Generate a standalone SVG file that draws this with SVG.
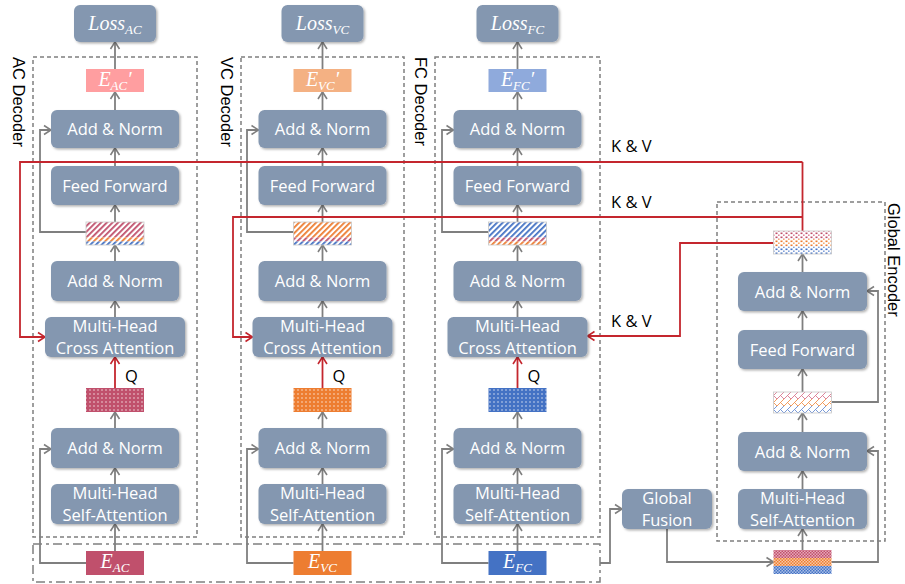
<svg xmlns="http://www.w3.org/2000/svg" width="905" height="584" viewBox="0 0 905 584">
<defs>
<style>
.box{fill:#8497B0;filter:url(#sh)}
.t{font-family:"Open Sans","Liberation Sans",sans-serif;font-size:16.5px;fill:#fff;text-anchor:middle}
.lbl{font-family:"Open Sans","Liberation Sans",sans-serif;font-size:16.5px;fill:#000}
.vl{font-family:"Liberation Sans",sans-serif;font-size:16.5px;fill:#000}
.m{font-family:"Liberation Serif",serif;font-style:italic;font-size:20px;fill:#fff;text-anchor:middle}
.sub{font-size:13px}
.dash{fill:none;stroke:#7F7F7F;stroke-width:1.5;stroke-dasharray:4 3}
.dd{fill:none;stroke:#7F7F7F;stroke-width:1.5;stroke-dasharray:9 4 3 4}
.g{fill:none;stroke:#7F7F7F;stroke-width:1.8;marker-end:url(#ag)}
.r{fill:none;stroke:#C4262E;stroke-width:1.8}
.ra{fill:none;stroke:#C4262E;stroke-width:1.8;marker-end:url(#ar)}
.pb{stroke:#C8C8C8;stroke-width:0.8}
</style>
<filter id="sh" x="-10%" y="-20%" width="125%" height="150%"><feDropShadow dx="1.5" dy="1.5" stdDeviation="1" flood-color="#000" flood-opacity="0.3"/></filter>
<marker id="ag" markerWidth="12" markerHeight="12" refX="10" refY="6" orient="auto" markerUnits="userSpaceOnUse"><path d="M3,1.5 L10,6 L3,10.5" fill="none" stroke="#7F7F7F" stroke-width="1.6"/></marker>
<marker id="ar" markerWidth="12" markerHeight="12" refX="10" refY="6" orient="auto" markerUnits="userSpaceOnUse"><path d="M3,1.5 L10,6 L3,10.5" fill="none" stroke="#C4262E" stroke-width="1.6"/></marker>
<pattern id="hP" width="4" height="4" patternUnits="userSpaceOnUse" patternTransform="rotate(45)"><rect width="4" height="4" fill="#fff"/><rect width="1.8" height="4" fill="#C0506C"/></pattern>
<pattern id="hO" width="4" height="4" patternUnits="userSpaceOnUse" patternTransform="rotate(45)"><rect width="4" height="4" fill="#fff"/><rect width="1.8" height="4" fill="#ED7D31"/></pattern>
<pattern id="hB" width="4" height="4" patternUnits="userSpaceOnUse" patternTransform="rotate(45)"><rect width="4" height="4" fill="#fff"/><rect width="1.8" height="4" fill="#4472C4"/></pattern>
<pattern id="dP" width="4" height="4" patternUnits="userSpaceOnUse"><rect width="4" height="4" fill="#C0506C"/><circle cx="2" cy="2" r="0.8" fill="#fff" opacity="0.75"/></pattern>
<pattern id="dO" width="4" height="4" patternUnits="userSpaceOnUse"><rect width="4" height="4" fill="#ED7D31"/><circle cx="2" cy="2" r="0.8" fill="#fff" opacity="0.75"/></pattern>
<pattern id="dB" width="4" height="4" patternUnits="userSpaceOnUse"><rect width="4" height="4" fill="#4472C4"/><circle cx="2" cy="2" r="0.8" fill="#fff" opacity="0.75"/></pattern>
<pattern id="sP" width="5" height="4" patternUnits="userSpaceOnUse"><rect width="5" height="4" fill="#fff"/><rect x="0.5" y="0.5" width="2" height="1.6" fill="#C0506C"/><rect x="3" y="2.5" width="1.6" height="1.4" fill="#D97890"/></pattern>
<pattern id="sO" width="5" height="4" patternUnits="userSpaceOnUse"><rect width="5" height="4" fill="#fff"/><rect x="0.5" y="0.5" width="2" height="1.6" fill="#ED7D31"/><rect x="3" y="2.5" width="1.6" height="1.4" fill="#F4A060"/></pattern>
<pattern id="sB" width="5" height="4" patternUnits="userSpaceOnUse"><rect width="5" height="4" fill="#fff"/><rect x="0.5" y="0.5" width="2" height="1.6" fill="#4472C4"/><rect x="3" y="2.5" width="1.6" height="1.4" fill="#7094D6"/></pattern>
<pattern id="xP" width="7" height="7" patternUnits="userSpaceOnUse"><rect width="7" height="7" fill="#fff"/><path d="M0,7 L7,0 M3.5,3.5 L7,7" stroke="#D97890" stroke-width="0.9" fill="none"/></pattern>
<pattern id="xO" width="7" height="7" patternUnits="userSpaceOnUse"><rect width="7" height="7" fill="#fff"/><path d="M0,7 L7,0 M3.5,3.5 L7,7" stroke="#F0924E" stroke-width="0.9" fill="none"/></pattern>
<pattern id="xB" width="7" height="7" patternUnits="userSpaceOnUse"><rect width="7" height="7" fill="#fff"/><path d="M0,7 L7,0 M3.5,3.5 L7,7" stroke="#6A8FD4" stroke-width="0.9" fill="none"/></pattern>
<pattern id="cP" width="3" height="3" patternUnits="userSpaceOnUse"><rect width="3" height="3" fill="#E6A9B8"/><rect width="1.5" height="1.5" fill="#C0506C"/><rect x="1.5" y="1.5" width="1.5" height="1.5" fill="#C0506C"/></pattern>
<pattern id="cO" width="3" height="3" patternUnits="userSpaceOnUse"><rect width="3" height="3" fill="#F8C8A4"/><rect width="1.5" height="1.5" fill="#ED7D31"/><rect x="1.5" y="1.5" width="1.5" height="1.5" fill="#ED7D31"/></pattern>
<pattern id="cB" width="3" height="3" patternUnits="userSpaceOnUse"><rect width="3" height="3" fill="#A9BEE6"/><rect width="1.5" height="1.5" fill="#4472C4"/><rect x="1.5" y="1.5" width="1.5" height="1.5" fill="#4472C4"/></pattern>
</defs>
<rect width="905" height="584" fill="#fff"/>

<g id="frames">
<rect class="dash" x="33" y="57" width="164" height="480"/>
<rect class="dash" x="241" y="57" width="163" height="480"/>
<rect class="dash" x="435" y="57" width="165" height="480"/>
<rect class="dash" x="717" y="202" width="168" height="339"/>
<rect class="dd" x="33" y="544" width="567" height="38"/>
<text class="vl" transform="translate(13,57) rotate(90)">AC Decoder</text>
<text class="vl" transform="translate(221,57) rotate(90)">VC Decoder</text>
<text class="vl" transform="translate(415,57) rotate(90)">FC Decoder</text>
<text class="vl" transform="translate(888,203) rotate(90)" font-size="16">Global Encoder</text>
</g>

<g id="connectors">
<path class="g" d="M115,551 V524"/><path class="g" d="M115,484 V468"/><path class="g" d="M115,428 V412"/>
<path class="ra" d="M115,388 V357"/><path class="g" d="M115,317 V301"/><path class="g" d="M115,261 V245"/>
<path class="g" d="M115,222 V205"/><path class="g" d="M115,166 V148"/><path class="g" d="M115,110 V92"/><path class="g" d="M115,69 V42"/>
<path class="g" d="M86,563 H40 V449 H51"/><path class="g" d="M86,232 H40 V130 H51"/>
<path class="g" d="M322.5,551 V524"/><path class="g" d="M322.5,484 V468"/><path class="g" d="M322.5,428 V412"/>
<path class="ra" d="M322.5,388 V357"/><path class="g" d="M322.5,317 V301"/><path class="g" d="M322.5,261 V245"/>
<path class="g" d="M322.5,222 V205"/><path class="g" d="M322.5,166 V148"/><path class="g" d="M322.5,110 V92"/><path class="g" d="M322.5,69 V42"/>
<path class="g" d="M293.5,563 H247 V449 H258.5"/><path class="g" d="M293.5,232 H247 V130 H258.5"/>
<path class="g" d="M517.5,551 V524"/><path class="g" d="M517.5,484 V468"/><path class="g" d="M517.5,428 V412"/>
<path class="ra" d="M517.5,388 V357"/><path class="g" d="M517.5,317 V301"/><path class="g" d="M517.5,261 V245"/>
<path class="g" d="M517.5,222 V205"/><path class="g" d="M517.5,166 V148"/><path class="g" d="M517.5,110 V92"/><path class="g" d="M517.5,69 V42"/>
<path class="g" d="M488.5,563 H442 V449 H453.5"/><path class="g" d="M488.5,232 H442 V130 H453.5"/>
<path class="g" d="M802.5,550 V529"/><path class="g" d="M802.5,489 V471"/><path class="g" d="M802.5,432 V413"/>
<path class="g" d="M802.5,392 V369"/><path class="g" d="M802.5,330 V311"/><path class="g" d="M802.5,272 V254"/>
<path class="g" d="M831.5,562 H878 V451 H867"/><path class="g" d="M831.5,402 H878 V291 H867"/>
<path class="g" d="M667,529 V562 H773.5"/>
<path class="g" d="M600,563 H610 V509 H622"/>
<path class="r" d="M802.5,231 V162"/>
<path class="ra" d="M802.5,162 H20 V337 H45"/>
<path class="ra" d="M802.5,217 H233 V337 H252.5"/>
<path class="ra" d="M773.5,243 H680 V336 H587.5"/>
<text class="lbl" x="611" y="152">K &amp; V</text>
<text class="lbl" x="611" y="208">K &amp; V</text>
<text class="lbl" x="611" y="327">K &amp; V</text>
<text class="lbl" x="125" y="382">Q</text>
<text class="lbl" x="332.5" y="382">Q</text>
<text class="lbl" x="527.5" y="382">Q</text>
</g>

<g id="loss_ac"><rect class="box" x="74" y="5" width="82" height="37" rx="6"/><text class="m" x="115" y="30">Loss<tspan class="sub" dy="4">AC</tspan></text></g>
<g id="e_ac_prime"><rect x="86" y="69" width="58" height="23" fill="#FF9EA0"/><text class="m" x="115" y="86">E<tspan class="sub" dy="4">AC</tspan><tspan dy="-4">′</tspan></text></g>
<g id="ac_addnorm3"><rect class="box" x="51" y="110" width="128" height="38" rx="6"/><text class="t" x="115" y="135">Add &amp; Norm</text></g>
<g id="ac_ff"><rect class="box" x="51" y="166" width="128" height="39" rx="6"/><text class="t" x="115" y="191.5">Feed Forward</text></g>
<g id="ac_hatch"><rect x="86" y="222" width="58" height="15.5" fill="url(#hP)"/><rect x="86" y="237.5" width="58" height="4" fill="url(#hO)"/><rect x="86" y="241.5" width="58" height="3.5" fill="url(#hB)"/><rect class="pb" x="86" y="222" width="58" height="23" fill="none"/></g>
<g id="ac_addnorm2"><rect class="box" x="51" y="261" width="128" height="40" rx="6"/><text class="t" x="115" y="287">Add &amp; Norm</text></g>
<g id="ac_cross"><rect class="box" x="45" y="317" width="140" height="40" rx="6"/><text class="t" x="115" y="332">Multi-Head</text><text class="t" x="115" y="354">Cross Attention</text></g>
<g id="ac_dot"><rect x="86" y="388" width="58" height="24" fill="url(#dP)"/></g>
<g id="ac_addnorm1"><rect class="box" x="51" y="428" width="128" height="40" rx="6"/><text class="t" x="115" y="454">Add &amp; Norm</text></g>
<g id="ac_self"><rect class="box" x="51" y="484" width="128" height="40" rx="6"/><text class="t" x="115" y="499">Multi-Head</text><text class="t" x="115" y="521">Self-Attention</text></g>
<g id="e_ac"><rect x="86" y="551" width="58" height="24" fill="#C0506C"/><text class="m" x="115" y="568">E<tspan class="sub" dy="4">AC</tspan></text></g>

<g id="loss_vc"><rect class="box" x="281.5" y="5" width="82" height="37" rx="6"/><text class="m" x="322.5" y="30">Loss<tspan class="sub" dy="4">VC</tspan></text></g>
<g id="e_vc_prime"><rect x="293.5" y="69" width="58" height="23" fill="#F4B183"/><text class="m" x="322.5" y="86">E<tspan class="sub" dy="4">VC</tspan><tspan dy="-4">′</tspan></text></g>
<g id="vc_addnorm3"><rect class="box" x="258.5" y="110" width="128" height="38" rx="6"/><text class="t" x="322.5" y="135">Add &amp; Norm</text></g>
<g id="vc_ff"><rect class="box" x="258.5" y="166" width="128" height="39" rx="6"/><text class="t" x="322.5" y="191.5">Feed Forward</text></g>
<g id="vc_hatch"><rect x="293.5" y="222" width="58" height="15.5" fill="url(#hO)"/><rect x="293.5" y="237.5" width="58" height="4" fill="url(#hP)"/><rect x="293.5" y="241.5" width="58" height="3.5" fill="url(#hB)"/><rect class="pb" x="293.5" y="222" width="58" height="23" fill="none"/></g>
<g id="vc_addnorm2"><rect class="box" x="258.5" y="261" width="128" height="40" rx="6"/><text class="t" x="322.5" y="287">Add &amp; Norm</text></g>
<g id="vc_cross"><rect class="box" x="252.5" y="317" width="140" height="40" rx="6"/><text class="t" x="322.5" y="332">Multi-Head</text><text class="t" x="322.5" y="354">Cross Attention</text></g>
<g id="vc_dot"><rect x="293.5" y="388" width="58" height="24" fill="url(#dO)"/></g>
<g id="vc_addnorm1"><rect class="box" x="258.5" y="428" width="128" height="40" rx="6"/><text class="t" x="322.5" y="454">Add &amp; Norm</text></g>
<g id="vc_self"><rect class="box" x="258.5" y="484" width="128" height="40" rx="6"/><text class="t" x="322.5" y="499">Multi-Head</text><text class="t" x="322.5" y="521">Self-Attention</text></g>
<g id="e_vc"><rect x="293.5" y="551" width="58" height="24" fill="#ED7D31"/><text class="m" x="322.5" y="568">E<tspan class="sub" dy="4">VC</tspan></text></g>

<g id="loss_fc"><rect class="box" x="476.5" y="5" width="82" height="37" rx="6"/><text class="m" x="517.5" y="30">Loss<tspan class="sub" dy="4">FC</tspan></text></g>
<g id="e_fc_prime"><rect x="488.5" y="69" width="58" height="23" fill="#8FAADC"/><text class="m" x="517.5" y="86">E<tspan class="sub" dy="4">FC</tspan><tspan dy="-4">′</tspan></text></g>
<g id="fc_addnorm3"><rect class="box" x="453.5" y="110" width="128" height="38" rx="6"/><text class="t" x="517.5" y="135">Add &amp; Norm</text></g>
<g id="fc_ff"><rect class="box" x="453.5" y="166" width="128" height="39" rx="6"/><text class="t" x="517.5" y="191.5">Feed Forward</text></g>
<g id="fc_hatch"><rect x="488.5" y="222" width="58" height="15.5" fill="url(#hB)"/><rect x="488.5" y="237.5" width="58" height="4" fill="url(#hP)"/><rect x="488.5" y="241.5" width="58" height="3.5" fill="url(#hO)"/><rect class="pb" x="488.5" y="222" width="58" height="23" fill="none"/></g>
<g id="fc_addnorm2"><rect class="box" x="453.5" y="261" width="128" height="40" rx="6"/><text class="t" x="517.5" y="287">Add &amp; Norm</text></g>
<g id="fc_cross"><rect class="box" x="447.5" y="317" width="140" height="40" rx="6"/><text class="t" x="517.5" y="332">Multi-Head</text><text class="t" x="517.5" y="354">Cross Attention</text></g>
<g id="fc_dot"><rect x="488.5" y="388" width="58" height="24" fill="url(#dB)"/></g>
<g id="fc_addnorm1"><rect class="box" x="453.5" y="428" width="128" height="40" rx="6"/><text class="t" x="517.5" y="454">Add &amp; Norm</text></g>
<g id="fc_self"><rect class="box" x="453.5" y="484" width="128" height="40" rx="6"/><text class="t" x="517.5" y="499">Multi-Head</text><text class="t" x="517.5" y="521">Self-Attention</text></g>
<g id="e_fc"><rect x="488.5" y="551" width="58" height="24" fill="#4472C4"/><text class="m" x="517.5" y="568">E<tspan class="sub" dy="4">FC</tspan></text></g>

<g id="global_fusion"><rect class="box" x="622" y="489" width="90" height="40" rx="6"/><text class="t" x="667" y="504">Global</text><text class="t" x="667" y="526">Fusion</text></g>
<g id="ge_output"><rect x="773.5" y="231" width="58" height="8" fill="url(#sP)"/><rect x="773.5" y="239" width="58" height="7.5" fill="url(#sO)"/><rect x="773.5" y="246.5" width="58" height="7.5" fill="url(#sB)"/><rect class="pb" x="773.5" y="231" width="58" height="23" fill="none"/></g>
<g id="ge_addnorm2"><rect class="box" x="738" y="272" width="129" height="39" rx="6"/><text class="t" x="802.5" y="297.5">Add &amp; Norm</text></g>
<g id="ge_ff"><rect class="box" x="738" y="330" width="129" height="39" rx="6"/><text class="t" x="802.5" y="355.5">Feed Forward</text></g>
<g id="ge_hatch"><rect x="773.5" y="392" width="58" height="7" fill="url(#xP)"/><rect x="773.5" y="399" width="58" height="7" fill="url(#xO)"/><rect x="773.5" y="406" width="58" height="7" fill="url(#xB)"/><rect class="pb" x="773.5" y="392" width="58" height="21" fill="none"/></g>
<g id="ge_addnorm1"><rect class="box" x="738" y="432" width="129" height="39" rx="6"/><text class="t" x="802.5" y="457.5">Add &amp; Norm</text></g>
<g id="ge_self"><rect class="box" x="738" y="489" width="129" height="40" rx="6"/><text class="t" x="802.5" y="504">Multi-Head</text><text class="t" x="802.5" y="526">Self-Attention</text></g>
<g id="ge_input"><rect x="773.5" y="550" width="58" height="8" fill="url(#cP)"/><rect x="773.5" y="558" width="58" height="8" fill="url(#cO)"/><rect x="773.5" y="566" width="58" height="8" fill="url(#cB)"/></g>
</svg>
